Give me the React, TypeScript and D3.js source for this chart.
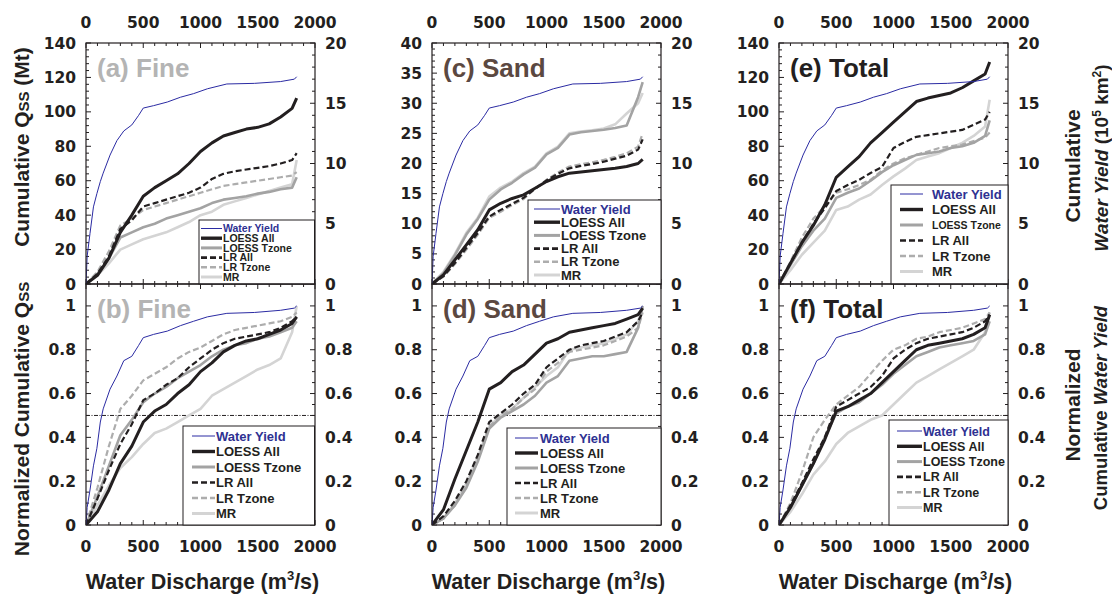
import React, { useEffect } from 'react';
import * as d3 from 'd3';

// discharge bins (m3/s) shared by the sediment curves
const DISCHARGE = [0, 100, 200, 300, 400, 500, 600, 700, 800, 900, 1000, 1100, 1200, 1300, 1400, 1500, 1600, 1700, 1800, 1840];

// water yield (same for every column)
const WY_DISCHARGE = [0, 10, 35, 65, 95, 125, 150, 210, 270, 330, 400, 460, 500, 590, 710, 825, 940, 1060, 1230, 1470, 1700, 1820, 1840];
const WY_CUM = [0, 2.3, 4.2, 6.4, 7.5, 8.5, 9.2, 10.7, 11.9, 12.7, 13.2, 14.0, 14.6, 14.8, 15.1, 15.5, 15.8, 16.2, 16.6, 16.65, 16.8, 17.0, 17.2];
const WY_NORM = [0, 0.08, 0.16, 0.27, 0.35, 0.47, 0.53, 0.62, 0.68, 0.75, 0.77, 0.82, 0.855, 0.87, 0.885, 0.91, 0.93, 0.95, 0.966, 0.97, 0.98, 0.99, 1.0];

// (a) Fine, cumulative Mt
const FINE_LOESS_ALL = [0, 5, 15, 30, 40, 51, 56, 60, 64, 70, 77, 82, 86, 88, 90, 91, 93, 97, 102, 108];
const FINE_LOESS_TZONE = [0, 6, 15, 27, 30, 33, 35, 38, 40, 42, 44, 47, 49, 50, 51, 52.5, 53.5, 55, 56, 62];
const FINE_LR_ALL = [0, 6, 16, 32, 37, 45, 47, 49, 51, 53, 56, 61, 64, 65.5, 66.5, 67.5, 68.5, 70, 72, 76];
const FINE_LR_TZONE = [0, 7, 19, 34, 38, 43, 45, 47, 49, 51, 53, 55, 57, 58, 59, 60, 61, 62, 63, 65];
const FINE_MR = [0, 5, 12, 20, 23, 26, 28, 30, 33, 36, 40, 42, 46, 48, 50, 52, 54, 56, 58, 72];

// (b) Fine, normalized
const FINE_N_LOESS_ALL = [0, 0.06, 0.16, 0.28, 0.36, 0.47, 0.52, 0.55, 0.6, 0.64, 0.7, 0.74, 0.79, 0.82, 0.84, 0.85, 0.87, 0.89, 0.92, 0.95];
const FINE_N_LOESS_TZONE = [0, 0.13, 0.27, 0.41, 0.48, 0.56, 0.6, 0.63, 0.67, 0.7, 0.73, 0.77, 0.8, 0.82, 0.83, 0.85, 0.86, 0.88, 0.9, 0.93];
const FINE_N_LR_ALL = [0, 0.12, 0.25, 0.37, 0.46, 0.57, 0.6, 0.64, 0.67, 0.72, 0.76, 0.8, 0.83, 0.85, 0.86, 0.87, 0.88, 0.9, 0.93, 0.95];
const FINE_N_LR_TZONE = [0, 0.17, 0.36, 0.53, 0.59, 0.66, 0.69, 0.72, 0.76, 0.79, 0.81, 0.84, 0.87, 0.89, 0.9, 0.91, 0.92, 0.93, 0.95, 0.97];
const FINE_N_MR = [0, 0.09, 0.18, 0.26, 0.31, 0.37, 0.42, 0.44, 0.47, 0.5, 0.53, 0.59, 0.62, 0.65, 0.68, 0.71, 0.73, 0.76, 0.88, 1.0];

// (c) Sand, cumulative Mt
const SAND_LOESS_ALL = [0, 1.5, 4, 6.5, 9, 12.3, 13.4, 14.2, 14.8, 15.9, 17, 17.8, 18.4, 18.6, 18.8, 19, 19.2, 19.5, 20, 20.7];
const SAND_LOESS_TZONE = [0, 1.8, 4.8, 8.2, 10.8, 14, 15.7, 16.8, 18.2, 19.3, 21.5, 22.6, 24.8, 25.2, 25.4, 25.6, 25.9, 26.3, 31, 33.5];
const SAND_LR_ALL = [0, 1.3, 3.5, 6, 8.5, 11.2, 12.3, 13.3, 14.3, 15.8, 17.2, 18.3, 19.2, 19.6, 19.9, 20.3, 20.8, 21.3, 22.3, 24];
const SAND_LR_TZONE = [0, 1.2, 3.3, 5.7, 8.2, 11, 12, 13.1, 14.1, 15.8, 17.3, 18.5, 19.5, 19.9, 20.2, 20.6, 21.1, 21.7, 22.8, 25];
const SAND_MR = [0, 2, 5, 8.5, 11, 14.5, 16, 17, 18.4, 19.5, 21.7, 22.8, 25, 25.3, 25.5, 25.8, 26.5, 28.3, 30, 31.7];

// (d) Sand, normalized
const SAND_N_LOESS_ALL = [0, 0.07, 0.21, 0.34, 0.47, 0.62, 0.65, 0.7, 0.73, 0.78, 0.83, 0.85, 0.88, 0.89, 0.9, 0.91, 0.92, 0.94, 0.96, 0.99];
const SAND_N_LOESS_TZONE = [0, 0.03, 0.09, 0.17, 0.29, 0.44, 0.49, 0.52, 0.55, 0.59, 0.65, 0.68, 0.75, 0.76, 0.77, 0.77, 0.78, 0.79, 0.9, 1.0];
const SAND_N_LR_ALL = [0, 0.04, 0.11, 0.2, 0.32, 0.47, 0.51, 0.55, 0.6, 0.64, 0.72, 0.76, 0.8, 0.82, 0.83, 0.84, 0.86, 0.88, 0.93, 0.97];
const SAND_N_LR_TZONE = [0, 0.03, 0.09, 0.18, 0.3, 0.45, 0.5, 0.53, 0.58, 0.62, 0.7, 0.74, 0.79, 0.8, 0.81, 0.82, 0.84, 0.86, 0.9, 0.97];
const SAND_N_MR = [0, 0.03, 0.1, 0.19, 0.31, 0.45, 0.5, 0.53, 0.58, 0.63, 0.68, 0.72, 0.8, 0.81, 0.82, 0.83, 0.85, 0.87, 0.93, 0.99];

// (e) Total, cumulative Mt
const TOTAL_LOESS_ALL = [0, 12, 24, 34, 46, 62, 68, 74, 82, 88, 94, 100, 106, 108, 109.5, 111, 114, 118, 122, 129];
const TOTAL_LOESS_TZONE = [0, 11, 22, 31, 38, 50, 53, 55.5, 60, 65, 69, 72, 75, 76, 77, 79, 80, 82, 86, 95];
const TOTAL_LR_ALL = [0, 12, 24, 35, 44, 54, 57.5, 60.5, 64.5, 68, 79, 82.5, 85.5, 86.5, 87.5, 88.5, 89.5, 92.5, 95.5, 100];
const TOTAL_LR_TZONE = [0, 13, 27, 38, 45, 53, 55, 57.5, 60.5, 66, 70, 73, 75, 77, 79, 80, 81, 83, 85, 88];
const TOTAL_MR = [0, 8, 17, 24, 31, 43, 45, 49, 52, 57.5, 62.5, 67, 72, 74, 76, 79, 82, 86, 91.5, 107];

// (f) Total, normalized
const TOTAL_N_LOESS_ALL = [0, 0.08, 0.18, 0.28, 0.39, 0.52, 0.54, 0.57, 0.6, 0.65, 0.7, 0.75, 0.8, 0.82, 0.83, 0.84, 0.85, 0.87, 0.9, 0.96];
const TOTAL_N_LOESS_TZONE = [0, 0.08, 0.18, 0.28, 0.4, 0.51, 0.54, 0.56, 0.6, 0.64, 0.69, 0.73, 0.77, 0.79, 0.81, 0.82, 0.83, 0.84, 0.87, 0.93];
const TOTAL_N_LR_ALL = [0, 0.09, 0.19, 0.3, 0.4, 0.54, 0.57, 0.6, 0.63, 0.68, 0.76, 0.8, 0.83, 0.85, 0.86, 0.87, 0.88, 0.9, 0.93, 0.96];
const TOTAL_N_LR_TZONE = [0, 0.1, 0.24, 0.4, 0.48, 0.55, 0.59, 0.63, 0.69, 0.75, 0.8, 0.82, 0.85, 0.86, 0.88, 0.89, 0.9, 0.92, 0.94, 0.97];
const TOTAL_N_MR = [0, 0.06, 0.14, 0.23, 0.29, 0.37, 0.42, 0.45, 0.48, 0.5, 0.55, 0.6, 0.65, 0.68, 0.71, 0.74, 0.77, 0.8, 0.88, 0.97];

const LEGEND_KEYS = ['Water Yield', 'LOESS All', 'LOESS Tzone', 'LR All', 'LR Tzone', 'MR'];
const X_TICKS = [0, 500, 1000, 1500, 2000];

const INK = '#231f20';
const SANS = '"Liberation Sans", Arial, sans-serif';
const TICK_FONT = '"DejaVu Sans", "Liberation Sans", sans-serif';

const STYLES: Record<string, { stroke: string; width: number; dash?: string }> = {
  'Water Yield': { stroke: '#2b2ba3', width: 1 },
  'LOESS All': { stroke: INK, width: 3 },
  'LOESS Tzone': { stroke: '#a3a3a3', width: 2.6 },
  'LR All': { stroke: INK, width: 2.2, dash: '6 3' },
  'LR Tzone': { stroke: '#adadad', width: 2.2, dash: '6 3' },
  'MR': { stroke: '#d4d4d4', width: 2.6 },
};

const PLOT_W = 229;
const COLS = [86, 432, 779];
const UPPER = { top: 43, bottom: 284 };
const LOWER = { top: 284, bottom: 525 };

type Legend = { box: number[]; row0: number; gap: number; line: number[]; tx: number; fs: number; small?: number };

function Panel(props: {
  id: string;
  x0: number;
  top: number;
  bottom: number;
  yMax: number;
  yTicks: number[];
  yMinor: number;
  right: { max: number; ticks: number[]; minor: number };
  curves: Record<string, number[]>;
  wy: number[];
  title: string;
  titleColor: string;
  xLabels: 'top' | 'bottom';
  half?: boolean;
  legend: Legend;
}) {
  const { id, x0, top, bottom, yMax, yTicks, yMinor, right, curves, wy, title, titleColor, xLabels, half, legend } = props;
  const x1 = x0 + PLOT_W;
  const x = d3.scaleLinear().domain([0, 2000]).range([x0, x1]);
  const y = d3.scaleLinear().domain([0, yMax]).range([bottom, top]);
  // right axis: water yield 0-20 (upper) or same normalized scale (lower)
  const yR = d3.scaleLinear().domain([0, right.max]).range([bottom, top]);

  const line = d3.line<number>().x((_, i) => x(DISCHARGE[i])).y((v) => y(v));
  const wyLine = d3.line<number>().x((_, i) => x(WY_DISCHARGE[i])).y((v) => yR(v));

  const xMinor = d3.range(0, 2001, 100);
  const leftMinor = d3.range(0, yTicks[yTicks.length - 1] + 1e-9, yMinor);
  const rightMinor = d3.range(0, right.ticks[right.ticks.length - 1] + 1e-9, right.minor);
  const fmt = (v: number) => String(+v.toFixed(2));
  const order = ['MR', 'LR Tzone', 'LOESS Tzone', 'LR All', 'LOESS All'];

  const [bx0, by0, bx1, by1] = legend.box;

  return (
    <g>
      <defs>
        <clipPath id={id}>
          <rect x={x0} y={top} width={PLOT_W} height={bottom - top} />
        </clipPath>
      </defs>
      {/* ticks, inward */}
      <g stroke={INK} strokeWidth={1}>
        {xMinor.map((t) => {
          const len = t % 500 === 0 ? 5 : 3;
          return (
            <g key={'x' + t}>
              <line x1={x(t)} x2={x(t)} y1={top} y2={top + len} />
              <line x1={x(t)} x2={x(t)} y1={bottom} y2={bottom - len} />
            </g>
          );
        })}
        {leftMinor.map((t) => {
          const major = yTicks.some((m) => Math.abs(m - t) < 1e-6);
          return <line key={'l' + t} x1={x0} x2={x0 + (major ? 5 : 3)} y1={y(t)} y2={y(t)} />;
        })}
        {rightMinor.map((t) => {
          const major = right.ticks.some((m) => Math.abs(m - t) < 1e-6);
          return <line key={'r' + t} x1={x1} x2={x1 - (major ? 5 : 3)} y1={yR(t)} y2={yR(t)} />;
        })}
      </g>
      {half && (
        <line x1={x0} x2={x1} y1={y(0.5)} y2={y(0.5)} stroke={INK} strokeWidth={1} strokeDasharray="4 1.5 1 1.5" />
      )}
      <g clipPath={`url(#${id})`} fill="none" strokeLinejoin="round">
        {order.map((k) => (
          <path key={k} d={line(curves[k]) || ''} stroke={STYLES[k].stroke} strokeWidth={STYLES[k].width} strokeDasharray={STYLES[k].dash} />
        ))}
        <path d={wyLine(wy) || ''} stroke={STYLES['Water Yield'].stroke} strokeWidth={1} />
      </g>
      <rect x={x0} y={top} width={PLOT_W} height={bottom - top} fill="none" stroke={INK} strokeWidth={1.2} />

      <g fontFamily={TICK_FONT} fontWeight="bold" fontSize={15.5} fill={INK}>
        {yTicks.map((t) => (
          <text key={'lt' + t} x={x0 - 10} y={y(t)} dy="0.36em" textAnchor="end">{fmt(t)}</text>
        ))}
        {right.ticks.map((t) => (
          <text key={'rt' + t} x={x1 + 10} y={yR(t)} dy="0.36em" textAnchor="start">{fmt(t)}</text>
        ))}
        {X_TICKS.map((t) => (
          <text key={'xt' + t} x={x(t)} y={xLabels === 'top' ? 28 : 552} textAnchor="middle">{t}</text>
        ))}
      </g>

      <text x={x0 + 11} y={top + 34} fontFamily={SANS} fontWeight="bold" fontSize={26} fill={titleColor}>{title}</text>

      {/* legend */}
      <rect x={bx0} y={by0} width={bx1 - bx0} height={by1 - by0} fill="#fff" stroke={INK} strokeWidth={1} />
      {LEGEND_KEYS.map((k, i) => {
        const ry = legend.row0 + i * legend.gap;
        const s = STYLES[k];
        const fs = k === 'LOESS Tzone' && legend.small ? legend.small : legend.fs;
        return (
          <g key={k}>
            <line x1={legend.line[0]} x2={legend.line[1]} y1={ry} y2={ry} stroke={s.stroke} strokeWidth={k === 'Water Yield' ? 1 : s.width + 0.4} strokeDasharray={s.dash} />
            <text x={legend.tx} y={ry} dy="0.36em" fontFamily={SANS} fontWeight="bold" fontSize={fs} fill={k === 'Water Yield' ? '#2e3192' : INK}>{k}</text>
          </g>
        );
      })}
    </g>
  );
}

function curveSet(la: number[], lt: number[], ra: number[], rt: number[], mr: number[]) {
  return { 'LOESS All': la, 'LOESS Tzone': lt, 'LR All': ra, 'LR Tzone': rt, 'MR': mr };
}

export default function App() {
  useEffect(() => {
    document.body.style.margin = '0';
    document.body.style.overflow = 'hidden';
  }, []);

  const upperRight = { max: 20, ticks: [0, 5, 10, 15, 20], minor: 1 };
  const normTicks = [0, 0.2, 0.4, 0.6, 0.8, 1];
  const lowerRight = { max: 1.1, ticks: normTicks, minor: 0.05 };
  const fine = '#b4b4b4';
  const sand = '#5b4841';

  return (
    <div style={{ position: 'fixed', left: 0, top: 0, width: 1112, height: 596, background: '#fff', overflow: 'hidden' }}>
      <svg width={1112} height={596} viewBox="0 0 1112 596" style={{ display: 'block' }}>
        {/* column 1 */}
        <Panel id="pa" x0={COLS[0]} {...UPPER} yMax={140} yTicks={[0, 20, 40, 60, 80, 100, 120, 140]} yMinor={4}
          right={upperRight} curves={curveSet(FINE_LOESS_ALL, FINE_LOESS_TZONE, FINE_LR_ALL, FINE_LR_TZONE, FINE_MR)}
          wy={WY_CUM} title="(a) Fine" titleColor={fine} xLabels="top"
          legend={{ box: [199, 220, 314.5, 284], row0: 228.5, gap: 9.7, line: [201, 222], tx: 223, fs: 10.5 }} />
        <Panel id="pb" x0={COLS[0]} {...LOWER} yMax={1.1} yTicks={normTicks} yMinor={0.05}
          right={lowerRight} curves={curveSet(FINE_N_LOESS_ALL, FINE_N_LOESS_TZONE, FINE_N_LR_ALL, FINE_N_LR_TZONE, FINE_N_MR)}
          wy={WY_NORM} title="(b) Fine" titleColor={fine} xLabels="bottom" half
          legend={{ box: [183, 426, 314.5, 525], row0: 436, gap: 15.5, line: [192, 215], tx: 216, fs: 13 }} />
        {/* column 2 */}
        <Panel id="pc" x0={COLS[1]} {...UPPER} yMax={40} yTicks={[0, 5, 10, 15, 20, 25, 30, 35, 40]} yMinor={1}
          right={upperRight} curves={curveSet(SAND_LOESS_ALL, SAND_LOESS_TZONE, SAND_LR_ALL, SAND_LR_TZONE, SAND_MR)}
          wy={WY_CUM} title="(c) Sand" titleColor={sand} xLabels="top"
          legend={{ box: [528, 200, 661, 284], row0: 209, gap: 13.2, line: [534, 560], tx: 561, fs: 13 }} />
        <Panel id="pd" x0={COLS[1]} {...LOWER} yMax={1.1} yTicks={normTicks} yMinor={0.05}
          right={lowerRight} curves={curveSet(SAND_N_LOESS_ALL, SAND_N_LOESS_TZONE, SAND_N_LR_ALL, SAND_N_LR_TZONE, SAND_N_MR)}
          wy={WY_NORM} title="(d) Sand" titleColor={sand} xLabels="bottom" half
          legend={{ box: [507, 428, 661, 525], row0: 438, gap: 15, line: [515, 538], tx: 540, fs: 13 }} />
        {/* column 3 */}
        <Panel id="pe" x0={COLS[2]} {...UPPER} yMax={140} yTicks={[0, 20, 40, 60, 80, 100, 120, 140]} yMinor={4}
          right={upperRight} curves={curveSet(TOTAL_LOESS_ALL, TOTAL_LOESS_TZONE, TOTAL_LR_ALL, TOTAL_LR_TZONE, TOTAL_MR)}
          wy={WY_CUM} title="(e) Total" titleColor={INK} xLabels="top"
          legend={{ box: [891, 185, 1008, 284], row0: 194, gap: 15.5, line: [900, 923], tx: 932, fs: 13, small: 10.5 }} />
        <Panel id="pf" x0={COLS[2]} {...LOWER} yMax={1.1} yTicks={normTicks} yMinor={0.05}
          right={lowerRight} curves={curveSet(TOTAL_N_LOESS_ALL, TOTAL_N_LOESS_TZONE, TOTAL_N_LR_ALL, TOTAL_N_LR_TZONE, TOTAL_N_MR)}
          wy={WY_NORM} title="(f) Total" titleColor={INK} xLabels="bottom" half
          legend={{ box: [889, 420, 1008, 525], row0: 431, gap: 15.3, line: [897, 922], tx: 923, fs: 12.5 }} />

        {/* axis titles */}
        <g fontFamily={SANS} fontWeight="bold" fill={INK}>
          {COLS.map((c) => (
            <text key={c} x={c + PLOT_W / 2 + 2} y={589} textAnchor="middle" fontSize={21.5}>
              Water Discharge (m<tspan fontSize={13} dy={-9}>3</tspan><tspan dy={9}>/s)</tspan>
            </text>
          ))}
          <text transform="translate(21,147) rotate(-90)" dy="0.36em" textAnchor="middle" fontSize={21}>
            Cumulative Q<tspan fontSize={15}>SS</tspan> (Mt)
          </text>
          <text transform="translate(21,419) rotate(-90)" dy="0.36em" textAnchor="middle" fontSize={21}>
            Normalized Cumulative Q<tspan fontSize={15}>SS</tspan>
          </text>
          <text transform="translate(1072,166) rotate(-90)" dy="0.36em" textAnchor="middle" fontSize={21}>Cumulative</text>
          <text transform="translate(1101,158) rotate(-90)" dy="0.36em" textAnchor="middle" fontSize={19}>
            <tspan fontStyle="italic">Water Yield</tspan> (10<tspan fontSize={12} dy={-7}>5</tspan><tspan dy={7}> km</tspan><tspan fontSize={12} dy={-7}>2</tspan><tspan dy={7}>)</tspan>
          </text>
          <text transform="translate(1072,405) rotate(-90)" dy="0.36em" textAnchor="middle" fontSize={21}>Normalized</text>
          <text transform="translate(1100,408) rotate(-90)" dy="0.36em" textAnchor="middle" fontSize={18.5}>
            Cumulative <tspan fontStyle="italic">Water Yield</tspan>
          </text>
        </g>
      </svg>
    </div>
  );
}
